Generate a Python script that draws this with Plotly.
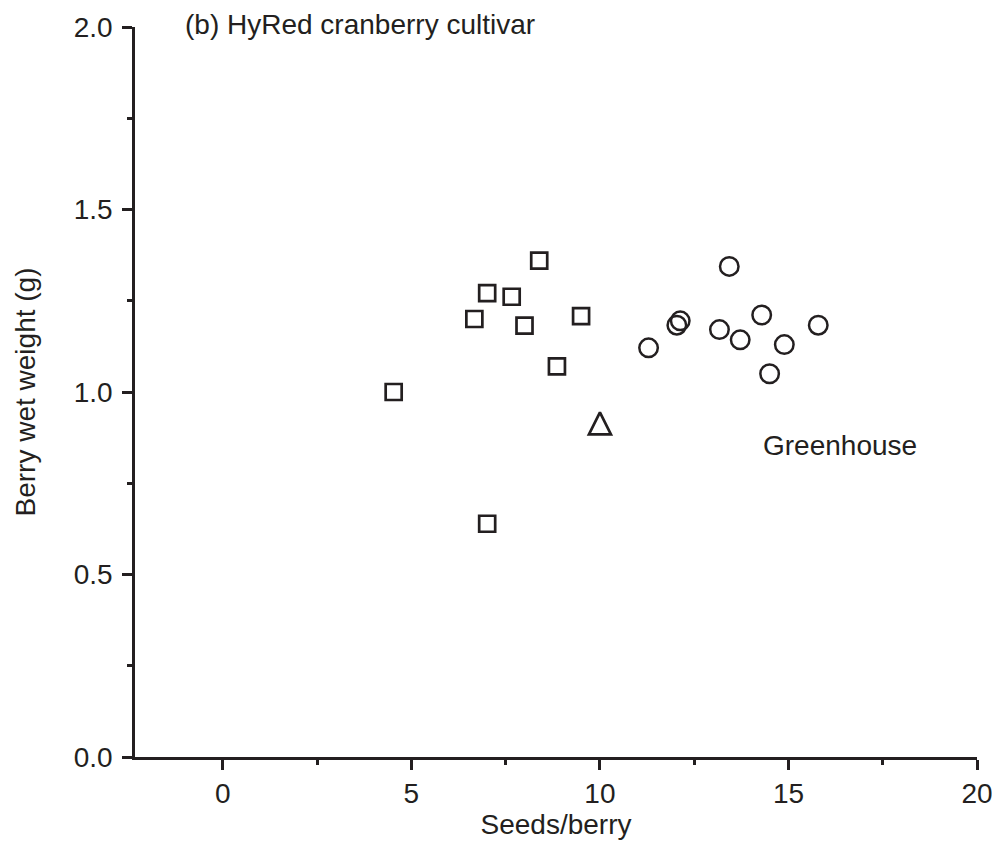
import plotly.graph_objects as go

# Seeds per berry vs berry wet weight, HyRed cultivar
square_seeds = [8.39, 7.01, 7.66, 6.67, 8.00, 9.50, 8.86, 4.53, 7.01]
square_weight = [1.360, 1.271, 1.261, 1.200, 1.182, 1.208, 1.070, 1.000, 0.639]

circle_seeds = [13.43, 12.13, 12.04, 11.29, 13.17, 13.72, 14.29, 14.89, 14.50, 15.79]
circle_weight = [1.344, 1.195, 1.183, 1.121, 1.171, 1.143, 1.211, 1.130, 1.050, 1.183]

triangle_seeds = [10.0]
triangle_weight = [0.914]

x_ticks = [0, 5, 10, 15, 20]
y_ticks = [0.0, 0.5, 1.0, 1.5, 2.0]

INK = "#231f20"
FONT = "Liberation Sans, Arial, sans-serif"
FS = 28

fig = go.Figure()

fig.add_trace(go.Scatter(
    x=square_seeds, y=square_weight, mode="markers",
    marker=dict(symbol="square-open", size=16, color=INK, line=dict(width=2.7, color=INK)),
    showlegend=False, hoverinfo="x+y",
))
fig.add_trace(go.Scatter(
    x=circle_seeds, y=circle_weight, mode="markers",
    marker=dict(symbol="circle-open", size=18.5, color=INK, line=dict(width=2.5, color=INK)),
    showlegend=False, hoverinfo="x+y",
))
# upward triangle centred on its point: arrow-down rotated 180 deg, pushed back by half its size
tri_size = 22
fig.add_trace(go.Scatter(
    x=triangle_seeds, y=triangle_weight, mode="markers",
    marker=dict(symbol="arrow-down-open", size=tri_size, angle=180, standoff=tri_size / 2,
                color=INK, line=dict(width=2.7, color=INK)),
    showlegend=False, hoverinfo="x+y",
))

axis_common = dict(
    showline=True, linecolor=INK, linewidth=2.5,
    ticks="outside", ticklen=10, tickwidth=2.5, tickcolor=INK,
    showgrid=False, zeroline=False,
    tickfont=dict(family=FONT, size=FS, color=INK),
    ticklabeloverflow="allow",
    mirror=False,
)

fig.update_xaxes(
    range=[-2.33, 20], tickvals=x_ticks, ticktext=[str(v) for v in x_ticks],
    minor=dict(dtick=2.5, tick0=0, ticks="outside", ticklen=5, tickwidth=2.5, tickcolor=INK),
    title=dict(text="Seeds/berry", font=dict(family=FONT, size=FS, color=INK), standoff=6),
    **axis_common,
)
fig.update_yaxes(
    range=[0, 2.0], tickvals=y_ticks, ticktext=[f"{v:.1f}" for v in y_ticks],
    minor=dict(dtick=0.25, tick0=0, ticks="outside", ticklen=5, tickwidth=2.5, tickcolor=INK),
    ticklabelstandoff=4,
    title=dict(text="Berry wet weight (g)", font=dict(family=FONT, size=FS, color=INK), standoff=30),
    **axis_common,
)

fig.add_annotation(
    text="(b) HyRed cranberry cultivar", xref="paper", yref="paper",
    x=0.0567, y=1.003, xanchor="left", yanchor="middle", showarrow=False,
    font=dict(family=FONT, size=FS, color=INK),
)
fig.add_annotation(
    text="Greenhouse", xref="x", yref="y",
    x=14.27, y=0.853, xanchor="left", yanchor="middle", showarrow=False,
    font=dict(family=FONT, size=FS, color=INK),
)

fig.update_layout(
    width=992, height=844,
    margin=dict(l=135, r=15.3, t=27.3, b=86.7, autoexpand=False),
    paper_bgcolor="white", plot_bgcolor="white",
    font=dict(family=FONT, size=FS, color=INK),
)

fig.write_html("out.html")
